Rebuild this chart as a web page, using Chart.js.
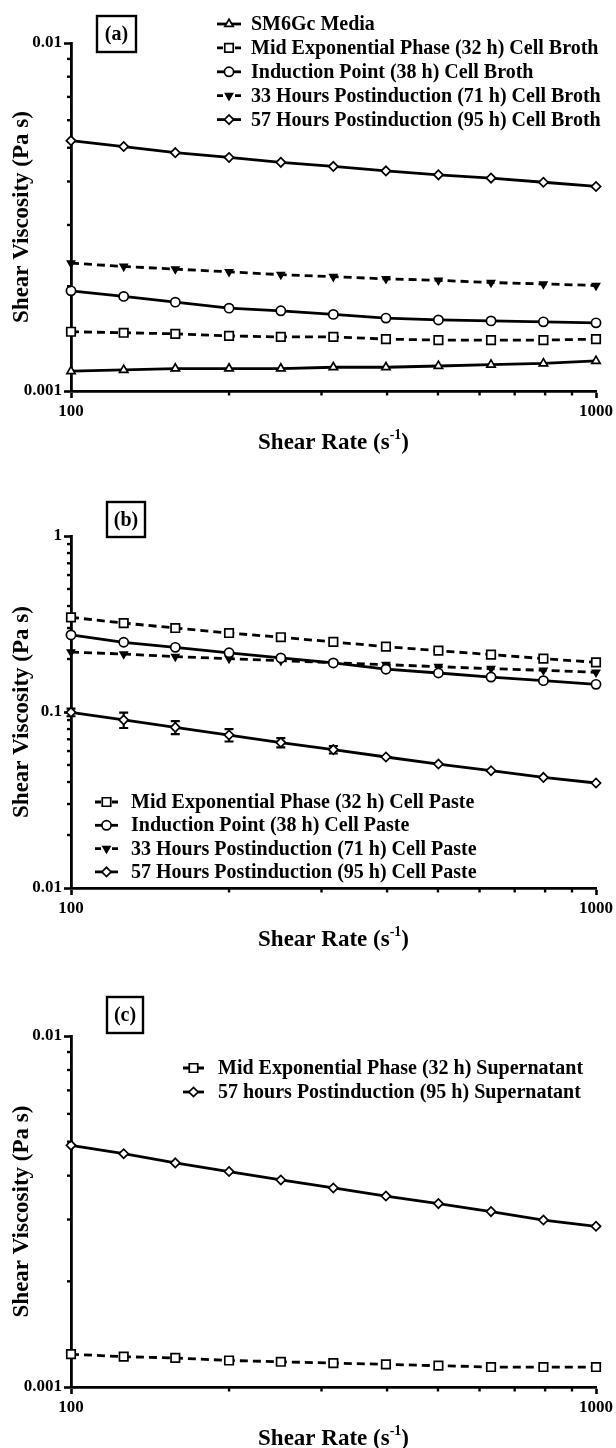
<!DOCTYPE html>
<html>
<head>
<meta charset="utf-8">
<script src="https://cdn.jsdelivr.net/npm/chart.js@4.4.1/dist/chart.umd.min.js"></script>
<style>
  html, body { margin: 0; padding: 0; background: #fff; }
  #wrap { position: relative; width: 616px; height: 1448px; overflow: hidden; background: #fff; }
  #wrap canvas { position: absolute; left: 0; }
</style>
</head>
<body>
<div id="wrap">
  <canvas id="panelA" width="616" height="497" style="top:0px"></canvas>
  <canvas id="panelB" width="616" height="497" style="top:497px"></canvas>
  <canvas id="panelC" width="616" height="454" style="top:994px"></canvas>
</div>
<script>
// Shear rates (1/s), ten log-spaced points per decade
const shearRate = [100, 126, 158, 200, 251, 316, 398, 501, 631, 794, 1000];

// (a) Cell broth shear viscosity (Pa s)
const brothMedia      = [0.00114, 0.00115, 0.00116, 0.00116, 0.00116, 0.00117, 0.00117, 0.00118, 0.00119, 0.00120, 0.00122];
const brothMidExp     = [0.00148, 0.00147, 0.00146, 0.00144, 0.00143, 0.00143, 0.00141, 0.00140, 0.00140, 0.00140, 0.00141];
const brothInduction  = [0.00194, 0.00187, 0.00180, 0.00173, 0.00170, 0.00166, 0.00162, 0.00160, 0.00159, 0.00158, 0.00157];
const broth71h        = [0.00233, 0.00228, 0.00224, 0.00220, 0.00216, 0.00213, 0.00210, 0.00208, 0.00205, 0.00203, 0.00201];
const broth95h        = [0.00524, 0.00504, 0.00484, 0.00469, 0.00454, 0.00442, 0.00429, 0.00418, 0.00409, 0.00398, 0.00387];

// (b) Cell paste shear viscosity (Pa s)
const pasteMidExp     = [0.345, 0.320, 0.300, 0.281, 0.266, 0.250, 0.235, 0.223, 0.212, 0.201, 0.1915];
const pasteInduction  = [0.274, 0.249, 0.233, 0.217, 0.203, 0.190, 0.175, 0.1666, 0.158, 0.1507, 0.1436];
const paste71h        = [0.219, 0.2136, 0.2063, 0.201, 0.1957, 0.1906, 0.1858, 0.181, 0.1763, 0.1725, 0.168];
const paste95h        = [0.0996, 0.0901, 0.0818, 0.0740, 0.0670, 0.0611, 0.0555, 0.0506, 0.0464, 0.0425, 0.0395];
const paste95hErr     = [0.005, 0.009, 0.007, 0.006, 0.004, 0.003, 0, 0, 0, 0, 0];

// (c) Supernatant shear viscosity (Pa s)
const superMidExp     = [0.00124, 0.00122, 0.00121, 0.00119, 0.00118, 0.00117, 0.00116, 0.00115, 0.00114, 0.00114, 0.00114];
const super95h        = [0.00488, 0.00462, 0.00435, 0.00411, 0.00389, 0.00369, 0.00350, 0.00333, 0.00316, 0.00299, 0.00287];

// Labelled (major) ticks
const xTickLabels  = [100, 1000];
const yTickLabelsA = [0.001, 0.01];
const yTickLabelsB = [0.01, 0.1, 1];
const yTickLabelsC = [0.001, 0.01];

const SERIF = "'Liberation Serif', 'Times New Roman', serif";

// Line / marker style per sample type
const STYLE = {
  media:     { point: 'triangle', r: 4.8, rot: 0,   fill: '#fff', dash: [] },
  midExp:    { point: 'rect',     r: 6.0, rot: 0,   fill: '#fff', dash: [8, 5] },
  induction: { point: 'circle',   r: 4.6, rot: 0,   fill: '#fff', dash: [] },
  h71:       { point: 'triangle', r: 4.0, rot: 180, fill: '#000', dash: [8, 5] },
  h95:       { point: 'rectRot',  r: 4.6, rot: 0,   fill: '#fff', dash: [] }
};

function series(label, values, kind, extra) {
  const s = STYLE[kind];
  return Object.assign({
    label,
    data: shearRate.map((x, i) => ({ x, y: values[i] })),
    borderColor: '#000',
    borderWidth: 2.8,
    borderDash: s.dash,
    pointStyle: s.point,
    pointRadius: s.r,
    pointRotation: s.rot,
    pointBackgroundColor: s.fill,
    pointBorderColor: '#000',
    pointBorderWidth: 1.7,
    tension: 0,
    fill: false,
    clip: false
  }, extra || {});
}

function isListed(list, v) {
  return list.some(l => Math.abs(l - v) / l < 1e-6);
}
function fmt(v) { return String(+v.toPrecision(6)); }

function drawMarker(ctx, ds, x, y) {
  ctx.save();
  ctx.setLineDash([]);
  ctx.fillStyle = ds.pointBackgroundColor;
  ctx.strokeStyle = '#000';
  ctx.lineWidth = ds.pointBorderWidth;
  const opts = { pointStyle: ds.pointStyle, radius: ds.pointRadius, rotation: ds.pointRotation, borderWidth: ds.pointBorderWidth };
  if (Chart.helpers && Chart.helpers.drawPoint) {
    Chart.helpers.drawPoint(ctx, opts, x, y);
  } else {
    ctx.beginPath();
    ctx.arc(x, y, ds.pointRadius, 0, Math.PI * 2);
    ctx.fill(); ctx.stroke();
  }
  ctx.restore();
}

// Minor log ticks (2..9 in each decade) between the scale bounds
function minorValues(scale) {
  const out = [];
  const e0 = Math.floor(Math.log10(scale.min)), e1 = Math.ceil(Math.log10(scale.max));
  for (let e = e0; e < e1; e++) {
    for (let k = 2; k <= 9; k++) {
      const v = k * Math.pow(10, e);
      if (v > scale.min && v < scale.max) out.push(v);
    }
  }
  return out;
}

// Decorations: minor ticks, error bars, axis titles, panel tag and legend
const decor = {
  id: 'decor',
  beforeDatasetsDraw(chart) {
    const ctx = chart.ctx;
    const y = chart.scales.y, x = chart.scales.x;
    chart.data.datasets.forEach(ds => {
      if (!ds.errorBars) return;
      ctx.save();
      ctx.strokeStyle = '#000';
      ctx.lineWidth = 2.2;
      ds.data.forEach((p, i) => {
        const e = ds.errorBars[i];
        if (!e) return;
        const px = x.getPixelForValue(p.x);
        const top = y.getPixelForValue(p.y + e);
        const bot = y.getPixelForValue(p.y - e);
        ctx.beginPath();
        ctx.moveTo(px, top); ctx.lineTo(px, bot);
        ctx.moveTo(px - 4.5, top); ctx.lineTo(px + 4.5, top);
        ctx.moveTo(px - 4.5, bot); ctx.lineTo(px + 4.5, bot);
        ctx.stroke();
      });
      ctx.restore();
    });
  },
  afterDraw(chart, args, o) {
    const ctx = chart.ctx;
    const area = chart.chartArea;
    const xs = chart.scales.x, ys = chart.scales.y;

    // minor tick marks
    ctx.save();
    ctx.strokeStyle = '#000';
    ctx.lineWidth = 2.4;
    minorValues(xs).forEach(v => {
      const px = xs.getPixelForValue(v);
      ctx.beginPath(); ctx.moveTo(px, area.bottom); ctx.lineTo(px, area.bottom + 4.5); ctx.stroke();
    });
    minorValues(ys).forEach(v => {
      const py = ys.getPixelForValue(v);
      ctx.beginPath(); ctx.moveTo(area.left, py); ctx.lineTo(area.left - 4, py); ctx.stroke();
    });
    ctx.restore();

    // y axis title
    ctx.save();
    ctx.fillStyle = '#000';
    ctx.font = 'bold 23px ' + SERIF;
    ctx.textAlign = 'center';
    ctx.textBaseline = 'middle';
    ctx.translate(22, (area.top + area.bottom) / 2);
    ctx.rotate(-Math.PI / 2);
    ctx.fillText('Shear Viscosity (Pa s)', 0, 0);
    ctx.restore();

    // x axis title with superscript
    ctx.save();
    ctx.fillStyle = '#000';
    ctx.textBaseline = 'alphabetic';
    ctx.textAlign = 'left';
    const big = 'bold 23px ' + SERIF, small = 'bold 14px ' + SERIF;
    const p1 = 'Shear Rate (s', p2 = '-1', p3 = ')';
    ctx.font = big; const w1 = ctx.measureText(p1).width, w3 = ctx.measureText(p3).width;
    ctx.font = small; const w2 = ctx.measureText(p2).width;
    let tx = (area.left + area.right) / 2 - (w1 + w2 + w3) / 2;
    const ty = area.bottom + 58;
    ctx.font = big; ctx.fillText(p1, tx, ty); tx += w1;
    ctx.font = small; ctx.fillText(p2, tx, ty - 10); tx += w2;
    ctx.font = big; ctx.fillText(p3, tx, ty);
    ctx.restore();

    // panel tag box
    ctx.save();
    ctx.strokeStyle = '#000';
    ctx.lineWidth = 2.4;
    const b = o.tag;
    ctx.strokeRect(b.x, b.y, b.w, b.h);
    ctx.fillStyle = '#000';
    ctx.font = 'bold 20px ' + SERIF;
    ctx.textAlign = 'center';
    ctx.textBaseline = 'middle';
    ctx.fillText(b.text, b.x + b.w / 2, b.y + b.h / 2 + 1);
    ctx.restore();

    // legend
    const L = o.legend;
    ctx.save();
    o.legendOrder.forEach((di, row) => {
      const ds = chart.data.datasets[di];
      const yy = L.y + row * L.gap;
      ctx.strokeStyle = '#000';
      ctx.lineWidth = 2.8;
      ctx.setLineDash([]);
      ctx.beginPath();
      if (ds.borderDash && ds.borderDash.length) {
        ctx.moveTo(L.x1, yy); ctx.lineTo(L.x1 + 6, yy);
        ctx.moveTo(L.x2 - 6, yy); ctx.lineTo(L.x2, yy);
      } else {
        ctx.moveTo(L.x1, yy); ctx.lineTo(L.x2, yy);
      }
      ctx.stroke();
      drawMarker(ctx, ds, (L.x1 + L.x2) / 2, yy);
      ctx.fillStyle = '#000';
      ctx.font = 'bold 20px ' + SERIF;
      ctx.textAlign = 'left';
      ctx.textBaseline = 'middle';
      ctx.fillText(ds.label, L.tx, yy + 1);
    });
    ctx.restore();
  }
};

function makePanel(id, cfg) {
  const canvas = document.getElementById(id);
  const H = canvas.height;
  const tickFont = { family: SERIF, size: 17, weight: 'bold' };
  const axisCommon = (labels) => ({
    type: 'logarithmic',
    border: { display: true, color: '#000', width: 2.8 },
    grid: {
      display: true, drawOnChartArea: false, drawTicks: true, tickLength: 7, tickWidth: 2.6,
      tickColor: c => (c.tick && isListed(labels, c.tick.value)) ? '#000' : 'rgba(0,0,0,0)'
    },
    ticks: {
      autoSkip: false, maxRotation: 0, minRotation: 0, color: '#000', font: tickFont, padding: 2,
      callback: v => isListed(labels, v) ? fmt(v) : ''
    }
  });
  const xAxis = Object.assign(axisCommon(xTickLabels), {
    min: 100, max: 1000,
    afterFit: s => { s.height = H - cfg.bottom; }
  });
  xAxis.ticks.padding = 3;
  const yAxis = Object.assign(axisCommon(cfg.yLabels), {
    min: cfg.yMin, max: cfg.yMax,
    afterFit: s => { s.width = 71; }
  });
  return new Chart(canvas, {
    type: 'line',
    data: { datasets: cfg.datasets },
    options: {
      responsive: false,
      animation: false,
      devicePixelRatio: 1,
      layout: { padding: { top: cfg.top, right: 18, bottom: 0, left: 0 } },
      plugins: {
        legend: { display: false },
        tooltip: { enabled: false },
        decor: {
          tag: cfg.tag, legend: cfg.legend, legendOrder: cfg.legendOrder
        }
      },
      scales: { x: xAxis, y: yAxis }
    },
    plugins: [decor]
  });
}

makePanel('panelA', {
  top: 43, bottom: 391, yMin: 0.001, yMax: 0.01, yLabels: yTickLabelsA,
  tag: { x: 97, y: 16, w: 39, h: 36, text: '(a)' },
  legend: { x1: 217, x2: 241, tx: 251, y: 24, gap: 23.9 },
  legendOrder: [0, 1, 2, 3, 4],
  datasets: [
    series('SM6Gc Media', brothMedia, 'media'),
    series('Mid Exponential Phase (32 h) Cell Broth', brothMidExp, 'midExp'),
    series('Induction Point (38 h) Cell Broth', brothInduction, 'induction'),
    series('33 Hours Postinduction (71 h) Cell Broth', broth71h, 'h71'),
    series('57 Hours Postinduction (95 h) Cell Broth', broth95h, 'h95')
  ]
});

makePanel('panelB', {
  top: 39, bottom: 391, yMin: 0.01, yMax: 1, yLabels: yTickLabelsB,
  tag: { x: 107, y: 5, w: 38, h: 35, text: '(b)' },
  legend: { x1: 95, x2: 118, tx: 131, y: 305, gap: 23.3 },
  legendOrder: [0, 1, 2, 3],
  datasets: [
    series('Mid Exponential Phase (32 h) Cell Paste', pasteMidExp, 'midExp'),
    series('Induction Point (38 h) Cell Paste', pasteInduction, 'induction'),
    series('33 Hours Postinduction (71 h) Cell Paste', paste71h, 'h71'),
    series('57 Hours Postinduction (95 h) Cell Paste', paste95h, 'h95', { errorBars: paste95hErr })
  ]
});

makePanel('panelC', {
  top: 42, bottom: 393, yMin: 0.001, yMax: 0.01, yLabels: yTickLabelsC,
  tag: { x: 107, y: 3, w: 36, h: 36, text: '(c)' },
  legend: { x1: 183, x2: 204, tx: 218, y: 74, gap: 24 },
  legendOrder: [0, 1],
  datasets: [
    series('Mid Exponential Phase (32 h) Supernatant', superMidExp, 'midExp'),
    series('57 hours Postinduction (95 h) Supernatant', super95h, 'h95')
  ]
});
</script>
</body>
</html>
